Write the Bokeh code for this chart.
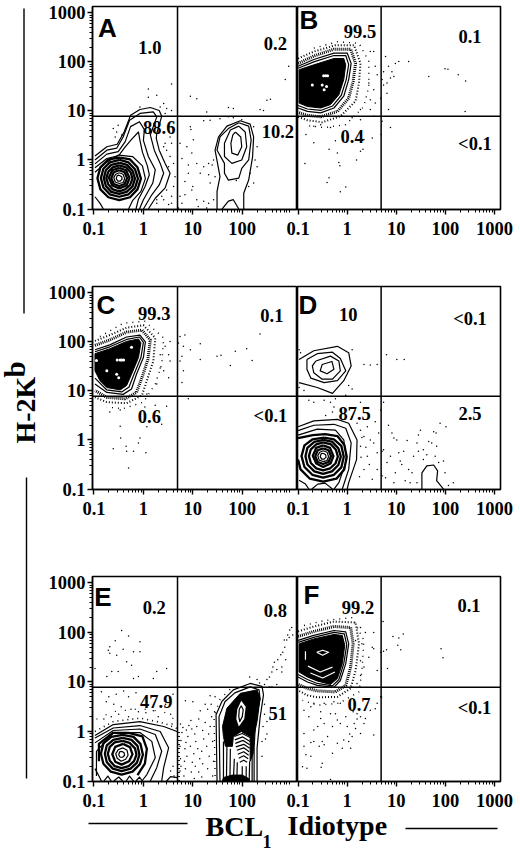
from bokeh.plotting import figure
from bokeh.layouts import row, column
from bokeh.models import FixedTicker, CustomJSTickFormatter, Range1d
from bokeh.core.properties import value
from bokeh.embed import file_html
from bokeh.resources import INLINE
import math

# All coordinates below are log10(value) pairs.
GATE_X = 4.9
GATE_Y = 7.8
X_TICKS = [0.1, 1, 10, 100, 1000]
Y_TICKS = [0.1, 1, 10, 100, 1000]
MINOR = [m * 10.0 ** k for k in range(-2, 4) for m in range(2, 10)]

A_labels = [("1.0", .13, 2.30), ("0.2", 2.67, 2.38), ("88.6", .32, .66), ("10.2", 2.72, .59)]
B_labels = [("99.5", .26, 2.61), ("0.1", 2.5, 2.51), ("0.4", .1, .47), ("<0.1", 2.6, .33)]
C_labels = [("99.3", .22, 2.58), ("0.1", 2.6, 2.53), ("0.6", .12, .48), ("<0.1", 2.57, .48)]
D_labels = [("10", .02, 2.55), ("<0.1", 2.5, 2.46), ("87.5", .15, .55), ("2.5", 2.5, .55)]
E_labels = [("0.2", .22, 2.5), ("0.8", 2.67, 2.44), ("47.9", .26, .61), ("51", 2.72, .37)]
F_labels = [("99.2", .22, 2.5), ("0.1", 2.48, 2.54), ("0.7", .24, .55), ("<0.1", 2.59, .48)]

A_rings = [
 [(-.49,-.31),(-.44,-.34),(-.43,-.39),(-.47,-.43),(-.52,-.43),(-.55,-.38),(-.53,-.32),(-.49,-.31)],
 [(-.49,-.26),(-.41,-.29),(-.38,-.38),(-.41,-.46),(-.49,-.48),(-.57,-.45),(-.60,-.36),(-.56,-.29),(-.49,-.26)],
 [(-.49,-.21),(-.38,-.25),(-.33,-.37),(-.38,-.49),(-.49,-.53),(-.60,-.49),(-.65,-.37),(-.60,-.25),(-.49,-.21)],
 [(-.49,-.16),(-.35,-.21),(-.28,-.37),(-.34,-.52),(-.49,-.58),(-.63,-.52),(-.70,-.36),(-.63,-.21),(-.49,-.16)],
 [(-.49,-.11),(-.35,-.15),(-.26,-.25),(-.22,-.38),(-.27,-.51),(-.37,-.60),(-.49,-.64),(-.62,-.60),(-.71,-.50),(-.75,-.37),(-.71,-.24),(-.62,-.15),(-.49,-.11)],
 [(-.48,-.06),(-.33,-.10),(-.22,-.22),(-.17,-.38),(-.22,-.54),(-.34,-.65),(-.49,-.69),(-.65,-.65),(-.76,-.53),(-.80,-.37),(-.76,-.21),(-.65,-.10),(-.48,-.06)],
 [(-.48,0),(-.30,-.05),(-.17,-.19),(-.11,-.38),(-.17,-.57),(-.30,-.70),(-.49,-.75),(-.68,-.70),(-.81,-.56),(-.86,-.37),(-.81,-.18),(-.68,-.05),(-.48,0)],
 [(-.47,.05),(-.27,.01),(-.12,-.15),(-.05,-.38),(-.12,-.60),(-.27,-.76),(-.49,-.82),(-.71,-.76),(-.87,-.60),(-.93,-.37),(-.87,-.15),(-.71,.01),(-.47,.05)],
 [(-.98,-.25),(-.75,-.05),(-.5,.1),(-.22,.07),(-.02,-.12),(.04,-.38),(-.05,-.64),(-.22,-.83),(-.3,-1)],
 [(-.98,.08),(-.74,.27),(-.53,.32),(-.39,.57),(-.26,.91),(-.07,1.03),(.14,1.07),(.32,1.01),(.37,.89),(.27,.54),(.26,.44),(.32,.2),(.44,-.07),(.54,-.27),(.44,-.57),(.24,-.78),(.10,-1)],
 [(-.98,0),(-.74,.2),(-.54,.24),(-.41,.47),(-.28,.81),(-.07,.95),(.20,.98),(.27,.88),(.14,.51),(.22,.2),(.34,-.07),(.41,-.27),(.32,-.51),(.17,-.71),(0,-1)],
 [(-.98,-.08),(-.74,.12),(-.51,.17),(-.37,.37),(-.26,.68),(-.08,.78),(.02,.62),(0,.40),(.10,.07),(.24,-.2),(.19,-.47),(0,-.81),(-.08,-1)],
 [(-.98,-.16),(-.74,.03),(-.5,.09),(-.38,.25),(-.24,.42),(-.1,.57),(-.07,.4),(-.02,.16),(.08,-.12),(.12,-.3),(.03,-.55),(-.1,-.8),(-.15,-1)],
 [(-.98,-.75),(-.88,-.88),(-.81,-1)],
 [(1.86,.57),(1.97,.47),(1.99,.27),(1.91,.10),(1.79,.14),(1.77,.34),(1.81,.51),(1.86,.57)],
 [(1.93,.69),(2.06,.57),(2.09,.27),(1.99,0),(1.79,-.07),(1.64,.07),(1.64,.34),(1.76,.61),(1.93,.69)],
 [(1.93,.76),(2.13,.69),(2.18,.41),(2.13,0),(1.99,-.17),(1.93,-.37),(1.72,-.41),(1.64,-.27),(1.64,-.07),(1.49,.20),(1.55,.47),(1.72,.64),(1.93,.76)],
 [(1.49,-1),(1.49,-.64),(1.55,-.34),(1.45,.20),(1.52,.47),(1.69,.69),(1.96,.80),(2.16,.73),(2.23,.47),(2.21,.07),(2.13,-.41),(2.03,-.68),(2.03,-1)],
 [(1.59,-1),(1.72,-.84),(1.82,-.81),(1.93,-1)],
]
A_dots = [(.95,.68),(.96,.62),(1.22,.8),(1.35,.81),(1.55,.84),(1.72,.88),(1.82,.86),(1.99,.82),(.74,.34),(.88,.27),(1.01,.41),(.98,.14),(.78,.03),(.91,-.1),(1.08,-.07),(1.22,-.14),(1.32,-.07),(1.42,0),(1.39,-.1),(1.15,-.27),(1.32,-.3),(.91,-.27),(.84,-.44),(1,-.54),(.98,-.61),(.74,-.74),(.84,-.71),(1.08,-.81),(1.22,-.84),(1.32,-.88),(1.42,-.81),(1.28,-.98),(1.11,-.95),(1.45,-.34),(1.35,-.47),(2.23,.68),(2.3,.27),(2.26,0),(2.13,-.54),(2.23,-.47),(2.3,-.14),(2.16,-.27),(.78,-.88),(.71,-.98),
 (.41,1.15),(.27,1.32),(.1,1.45),(.57,1.55),(.34,1.08),(.47,1.05),(.1,1.28),(-.07,1.08),(.44,.95),(.57,1.01),(.95,1.3),(1.08,1.25),(1.28,.98),(1.72,1.07),(1.82,1.05),(2.36,1.03),(2.43,1.01),(2.57,1.24),(2.5,1.22),(2.94,1.91),(2.87,1.64),(-.61,.64),(-.51,.71),(-.44,.51),(-.57,.47),(-.54,.57),
 (.47,.2),(.54,.07),(.61,-.07),(.57,.34),(.41,.27),(.51,-.14),(.61,-.54),(.41,-.81),(.51,-.91),(.27,-.81),(.57,-.74),(.64,-.34),(.37,-.74),(.47,-.61),(.27,-.88),(.57,-.88),(.44,.34),(.54,.47),(1.88,-.42)]

B_black = [(-.98,1.84),(-.68,1.94),(-.27,2.07),(-.07,2.07),(-.03,1.94),(-.07,1.64),(-.17,1.33),(-.34,1.13),(-.54,1.06),(-.81,1.09),(-.98,1.16)]
B_rings = [
 [(-1,1.91),(-.68,2.05),(-.27,2.18),(0,2.18),(.08,1.97),(.03,1.64),(-.07,1.30),(-.27,1.06),(-.54,.96),(-.81,.99),(-1,1.06)],
 [(-1,1.87),(-.68,2.0),(-.27,2.13),(-.03,2.13),(.03,1.95),(-.02,1.64),(-.12,1.32),(-.3,1.1),(-.54,1.01),(-.81,1.04),(-1,1.11)],
]
B_white = [(-.44,1.72),(-.40,1.72),(-.48,1.72),(-.47,1.43),(-.51,1.53),(-.71,1.53),(-.42,1.5)]
B_halo = [
 ([(-1,1.97),(-.68,2.12),(-.27,2.26),(.07,2.26),(.17,1.97),(.12,1.60),(.03,1.26),(-.2,.99),(-.54,.88),(-.81,.91),(-1,.97)], 3, "1 1"),
 ([(-1,2.07),(-.68,2.21),(-.24,2.34),(.14,2.34),(.27,1.97),(.24,1.57),(.17,1.2),(-.14,.89),(-.51,.77),(-.81,.81),(-1,.88)], 2, "1 2"),
 ([(-.68,2.28),(-.2,2.41),(.24,2.38),(.44,2.01),(.44,1.5),(.34,1.09),(-.03,.72),(-.47,.66),(-.81,.7)], 1.4, "1 5"),
]
B_dots = [(.78,2.11),(1.05,2.01),(1.25,2.01),(.98,1.97),(.84,1.91),(.74,1.80),(.91,1.80),(.88,1.67),(.71,1.64),(.95,1.70),(.81,1.57),(.74,1.53),(.81,1.36),(.68,1.26),(.84,1.03),(.71,.79),(.88,.66),(.69,.52),(1.66,1.70),(1.99,1.86),(2.05,1.85),(2.26,1.74),(2.41,1.61),(2.40,.99),(-.68,.35),(-.84,.52),(-.86,-.07),(-.37,.22),(-.2,.14),(-.17,-.05),(-.15,-.12),(-.37,-.36),(-.41,-.46),(-.03,-.55),(-.14,-.65),(.19,0),(.27,.18),(.32,.22),(-.24,.39),(.34,.42),(.51,.45),(.47,2.21),(.54,2.21),(.57,1.91),(.61,1.74),(.44,1.57),(.54,1.43),(.47,1.23),(.57,1.16),(.27,1.03),(.47,1.03),(.54,.89),(.27,.82),(.1,.86),(-.68,.69),(-.54,.72),(-.34,.66)]

C_black = [(-.98,1.76),(-.68,1.86),(-.34,2.01),(-.1,2.06),(-.05,1.98),(-.1,1.68),(-.24,1.34),(-.34,1.11),(-.47,1.02),(-.74,1.07),(-.88,1.21),(-.98,1.41)]
C_rings = [
 [(-.98,1.84),(-.68,1.94),(-.34,2.1),(-.07,2.14),(.04,2.0),(0,1.68),(-.14,1.34),(-.24,1.04),(-.41,.93),(-.74,.97),(-.98,1.14)],
 [(-.98,1.80),(-.68,1.90),(-.34,2.05),(-.08,2.10),(0,1.99),(-.05,1.68),(-.19,1.34),(-.29,1.08),(-.44,.98),(-.74,1.02),(-.98,1.26)],
]
C_white = [(-.47,1.63),(-.53,1.63),(-.4,1.63),(-.24,1.89),(-.54,1.34),(-.5,1.27),(-.95,1.62),(-.74,1.41),(-.44,1.63)]
C_halo = [
 ([(-.98,1.93),(-.68,2.04),(-.34,2.2),(-.03,2.24),(.14,2.04),(.09,1.64),(-.03,1.27),(-.14,.97),(-.37,.84),(-.74,.87),(-.98,1.01)], 3, "1 1"),
 ([(-.98,2.02),(-.68,2.14),(-.34,2.29),(0,2.34),(.24,2.08),(.2,1.61),(.07,1.21),(-.03,.91),(-.34,.75),(-.74,.77),(-.98,.87)], 2, "1 2"),
 ([(-.88,2.11),(-.41,2.38),(.03,2.42),(.41,2.08),(.37,1.54),(.24,1.14),(0,.77),(-.41,.64),(-.74,.67)], 1.4, "1 5"),
]
C_dots = [(.54,2.01),(.51,1.74),(.54,1.61),(.34,1.74),(.41,1.41),(.51,1.27),(.27,1.14),(.07,.94),(.34,1.47),(.44,1.91),(.74,2.11),(.84,2.14),(.71,1.98),(.81,1.91),(1.15,1.96),(.95,1.84),(.78,1.71),(.74,1.61),(1.15,1.64),(.81,1.41),(.78,1.17),(1.49,1.71),(1.57,1.73),(1.76,1.52),(1.86,1.81),(2.09,1.86),(2.2,1.62),(2.36,2.16),(.91,.84),(-.47,.28),(-.46,.04),(-.61,-.18),(-.35,-.13),(-.34,-.23),(-.2,-.23),(-.1,-.06),(.05,-.26),(-.07,.04),(-.3,-.57),(.07,.27),(.37,.32),(.47,.69),(.03,.67),(.24,.71),(-.68,.57),(-.47,.61)]

D_rings = [
 [(-.51,1.54),(-.31,1.6),(-.27,1.44),(-.41,1.35),(-.55,1.41),(-.51,1.54)],
 [(-.64,1.61),(-.34,1.71),(-.17,1.61),(-.14,1.41),(-.3,1.24),(-.51,1.24),(-.68,1.37),(-.71,1.51),(-.64,1.61)],
 [(-.82,1.64),(-.61,1.76),(-.3,1.79),(-.14,1.66),(-.03,1.41),(-.2,1.21),(-.47,1.17),(-.74,1.26),(-.82,1.44),(-.82,1.64)],
 [(-.98,1.64),(-.68,1.82),(-.2,1.91),(.03,1.78),(.08,1.51),(-.07,1.21),(-.3,.95),(-.61,1.07),(-.98,1.17)],
 [(-.49,-.27),(-.44,-.30),(-.43,-.35),(-.47,-.39),(-.52,-.39),(-.55,-.34),(-.53,-.28),(-.49,-.27)],
 [(-.49,-.22),(-.41,-.25),(-.38,-.34),(-.41,-.42),(-.49,-.44),(-.57,-.41),(-.60,-.32),(-.56,-.25),(-.49,-.22)],
 [(-.49,-.17),(-.38,-.21),(-.33,-.33),(-.38,-.45),(-.49,-.49),(-.60,-.45),(-.65,-.33),(-.60,-.21),(-.49,-.17)],
 [(-.49,-.11),(-.35,-.16),(-.28,-.33),(-.34,-.48),(-.49,-.55),(-.63,-.48),(-.70,-.32),(-.63,-.16),(-.49,-.11)],
 [(-.49,-.05),(-.33,-.09),(-.23,-.2),(-.19,-.34),(-.24,-.48),(-.35,-.58),(-.49,-.62),(-.63,-.58),(-.74,-.47),(-.78,-.33),(-.74,-.19),(-.63,-.09),(-.49,-.05)],
 [(-.48,0),(-.30,-.04),(-.18,-.17),(-.13,-.34),(-.18,-.51),(-.31,-.64),(-.49,-.69),(-.67,-.64),(-.81,-.5),(-.85,-.33),(-.81,-.16),(-.67,-.04),(-.48,0)],
 [(-.47,.05),(-.27,.01),(-.12,-.12),(-.07,-.34),(-.12,-.56),(-.27,-.71),(-.49,-.77),(-.71,-.71),(-.87,-.55),(-.93,-.33),(-.87,-.11),(-.71,.01),(-.47,.05)],
 [(-1,.04),(-.7,.1),(-.45,.12),(-.2,.08),(-.06,-.1),(-.01,-.34),(-.06,-.6),(-.22,-.79),(-.49,-.85),(-.76,-.79),(-.95,-.6),(-1,-.4)],
 [(-1,.1),(-.61,.22),(-.24,.2),(-.07,0),(-.01,-.4),(-.17,-.87),(-.27,-1)],
 [(-1,.19),(-.68,.3),(-.27,.32),(-.03,.24),(.08,-.06),(.03,-.6),(-.1,-1)],
 [(-1,.27),(-.68,.39),(-.2,.42),(.03,.34),(.2,.0),(.19,-.4),(.03,-.87),(0,-1)],
 [(-.98,-.82),(-.85,-.9),(-.78,-1)],
 [(-.72,-1),(-.6,-.9),(-.45,-.88),(-.3,-1)],
 [(1.52,-1),(1.52,-.67),(1.62,-.53),(1.76,-.51),(1.84,-.63),(1.82,-.83),(1.96,-1)],
]
D_dots = [(.71,-.23),(.91,.14),(.95,.04),(1.01,0),(1.22,-.01),(1.45,.1),(1.49,.2),(1.76,.17),(1.81,.14),(1.66,-.03),(1.72,-.06),(1.82,-.13),(1.89,.34),(2.01,.27),(1.42,-.06),(1.45,-.23),(1.62,-.3),(1.79,-.33),(1.96,-.43),(1.86,-.46),(1.25,-.6),(1.32,-.67),(1.08,-.43),(1.11,-.5),(.88,-.33),(.74,-.2),(.81,-.46),(.98,-.67),(1.18,-.83),(1.28,-.87),(1.42,-.87),(2.16,-.87),(2.06,-.93),(1.99,-.67),(1.55,-.2),(1.35,-.33),(1.15,-.23),(1.05,-.26),(.71,-.73),(.78,-.77),(.95,-.87),(1.55,-.4),
 (.8,1.74),(1.01,1.64),(1.16,1.64),(.34,1.54),(.47,1.53),(.61,1.54),(.1,1.84),(.03,1.11),(.1,1.04),(-.03,.91),(.27,.77),(-.98,1.84),(-.95,1.78),(-.98,1.07),(-.88,1.01),(-.78,.81),(-.68,.77),(-.47,.81),(-.34,.77),(-.27,.67),(-.3,.57),(-.44,.5),(-.24,.84),(.1,.47),(.2,.34),(.27,.2),(.41,.27),(.34,.07),(.47,0),(.27,-.13),(.54,-.06),(.57,.37),(.64,.14),(.41,-.33),(.61,-.26),(.34,-.6),(.51,-.8),(.61,-.6),(.74,.77),(.68,.61),(.84,.3),(.3,.05),(.38,-.15),(.28,-.35),(.45,-.5),(.25,-.75)]

E_black = [(1.6,.1),(1.69,.47),(1.96,.77),(2.3,.84),(2.36,.67),(2.3,.2),(2.24,-.07),(2.22,-.45),(2.16,-.6),(2.16,-.1),(1.98,0),(1.82,-.1),(1.8,-.3),(1.66,-.3),(1.62,-.1)]
E_black2 = [(1.6,-1),(1.62,-.93),(1.8,-.88),(2.0,-.88),(2.13,-.95),(2.15,-1)]
E_white_patches = [
 [(1.98,.62),(2.07,.5),(2.04,.25),(1.93,.1),(1.88,.25),(1.9,.45)],
]
E_rings = [
 [(-.44,-.40),(-.39,-.43),(-.38,-.48),(-.42,-.52),(-.47,-.52),(-.50,-.47),(-.48,-.41),(-.44,-.40)],
 [(-.42,-.33),(-.33,-.38),(-.31,-.48),(-.36,-.56),(-.45,-.6),(-.53,-.54),(-.56,-.45),(-.51,-.37),(-.42,-.33)],
 [(-.41,-.25),(-.27,-.32),(-.22,-.46),(-.29,-.6),(-.44,-.67),(-.57,-.61),(-.63,-.46),(-.57,-.31),(-.41,-.25)],
 [(-.42,-.19),(-.28,-.23),(-.17,-.34),(-.14,-.47),(-.19,-.6),(-.3,-.7),(-.44,-.74),(-.58,-.7),(-.68,-.59),(-.72,-.45),(-.68,-.31),(-.58,-.22),(-.42,-.19)],
 [(-.42,-.13),(-.24,-.17),(-.12,-.29),(-.08,-.47),(-.13,-.63),(-.26,-.75),(-.44,-.8),(-.62,-.75),(-.74,-.62),(-.78,-.45),(-.74,-.28),(-.61,-.17),(-.42,-.13)],
 [(-.42,-.07),(-.2,-.11),(-.06,-.25),(-.01,-.47),(-.07,-.66),(-.22,-.81),(-.44,-.87),(-.66,-.81),(-.81,-.65),(-.86,-.45),(-.81,-.24),(-.65,-.11),(-.42,-.07)],
 [(-.9,-.6),(-.9,-.25),(-.62,-.03),(-.3,-.03),(-.02,-.1),(.07,-.35),(.03,-.65),(-.12,-.88)],
 [(-.95,-.9),(-.95,-.4),(-.61,-.03),(-.07,-.02),(.17,-.2),(.24,-.53),(.07,-.87),(-.03,-1)],
 [(-.98,-.23),(-.61,.02),(-.07,.05),(.24,-.06),(.37,-.4),(.27,-.73),(.14,-1)],
 [(-.98,-.13),(-.61,.07),(-.07,.12),(.34,0),(.51,-.33),(.41,-.73),(.37,-1)],
 [(-.98,-.08),(-.61,.14),(-.07,.2),(.41,.1),(.68,0)],
 [(-.98,-.75),(-.9,-.9),(-.85,-1)],[(-.8,-1),(-.72,-.9),(-.65,-1)],[(-.6,-1),(-.5,-.92),(-.42,-1)],[(-.35,-1),(-.28,-.9),(-.2,-1)],[(-.15,-1),(-.08,-.92),(-.02,-1)],
 [(.47,-1),(.55,-.91),(.68,-.93)],
 [(1.49,-1),(1.47,.34),(1.59,.61),(1.82,.84),(2.16,.97),(2.4,.91),(2.43,.74),(2.36,.27),(2.3,-.33),(2.3,-1)],
 [(1.55,-1),(1.53,.3),(1.65,.6),(1.85,.78),(2.16,.9),(2.34,.84),(2.36,.66),(2.27,.2),(2.24,-.33),(2.24,-1)],
 [(1.62,-1),(1.62,-.2)],[(1.68,-1),(1.69,-.3)],[(1.75,-1),(1.76,-.35)],[(1.82,-1),(1.84,-.55)],[(1.89,-1),(1.9,-.62)],[(2.0,-1),(2.0,-.7)],[(2.08,-1),(2.08,-.7)],[(2.14,-1),(2.15,-.6)],[(2.2,-1),(2.2,-.4)],
 [(1.84,-.02),(2.0,.04),(2.16,-.05)],[(1.84,-.1),(2.0,-.04),(2.16,-.12)],[(1.85,-.17),(2.01,-.11),(2.16,-.2)],[(1.86,-.24),(2.02,-.18),(2.15,-.27)],[(1.87,-.31),(2.03,-.26),(2.15,-.34)],[(1.89,-.38),(2.03,-.33),(2.14,-.41)],[(1.91,-.46),(2.03,-.41),(2.13,-.48)],[(1.93,-.54),(2.03,-.49),(2.12,-.55)],[(1.95,-.62),(2.03,-.58),(2.1,-.62)],
 [(1.98,.52),(2.02,.44),(2.0,.3),(1.95,.2),(1.93,.3),(1.94,.45),(1.98,.52)],
]
E_halo = [
 ([(-.98,.0),(-.61,.2),(-.07,.27),(.41,.17),(.68,.06)], 1.6, "1 4"),
 ([(-.95,.25),(-.61,.4),(-.07,.46),(.41,.4),(.66,.22)], 1.2, "1 9"),
 ([(.72,-1),(.72,.05)], 1.8, "1 3"),
 ([(1.45,-.9),(1.43,.3),(1.55,.65),(1.8,.9)], 1.4, "1 6"),
]
E_dots = [(.74,-.8),(.76,-.7),(.75,-.55),(.74,-.3),(.76,-.18),(.78,-.02),(.8,.08),(.75,.15),(.82,-.9),(.85,-.75),(.83,-.6),(.88,-.5),(.84,-.35),(.86,-.22),(.9,-.1),(.87,.03),(.92,.12),(.96,.22),(.98,.05),(.95,-.3),(.99,-.62),(.97,-.82),(1.03,-.95),(1.05,-.7),(1.02,-.45),(1.06,-.2),(1.04,-.05),(1.08,.1),(1.12,.25),(1.1,-.35),(1.14,-.55),(1.12,-.82),(1.18,-.92),(1.2,-.65),(1.18,-.4),(1.22,-.15),(1.2,.02),(1.25,.18),(1.28,-.3),(1.3,-.75),(1.33,-.5),(1.32,-.05),(1.35,.1),(1.38,.3),(1.4,-.2),(1.42,-.6),(1.4,-.9),(1.44,.4),(1.37,.55),(1.3,.45),(1.25,.55),(1.15,.42),(1.0,.6),(.85,.62),(1.45,.7),(1.35,.72),
 (2.45,.55),(2.5,.2),(2.42,.1),(2.4,-.2),(2.47,-.15),(2.4,-.5),(2.5,-.05),(2.45,.35),(2.45,.95),(2.5,1.05),(2.55,1.1),(2.6,1.2),(2.62,1.3),(2.7,1.25),(2.65,1.4),(2.72,1.45),(2.78,1.55),(2.82,1.6),(2.86,1.7),(2.9,1.85),(2.92,1.95),(2.96,2.05),(3.0,2.1),(2.85,1.85),(2.95,1.9),(2.8,1.3),(2.88,1.45),(2.6,.9),(2.7,.95),(2.55,.9),(2.3,1.05),(2.15,1.1),(2.35,.98),(2.8,1.2),(3.02,1.95),
 (-.44,2.04),(-.3,1.93),(-.57,1.83),(-.07,1.81),(-.68,1.71),(-.71,1.64),(-.41,1.66),(-.2,1.61),(-.07,1.61),(-.54,1.54),(-.68,1.58),(-.34,1.41),(-.24,1.34),(-.64,1.21),(-.51,1.21),(-.1,1.11),(.27,1.21),(.47,1.27),(.2,1.07),(-.98,1.27),(-.2,1.07),(-.74,1.11),
 (-.85,.8),(-.7,.7),(-.55,.75),(-.4,.82),(-.3,.7),(-.15,.78),(-.6,.55),(-.75,.6),(-.45,.5),(-.25,.45),(-.1,.4),(-.5,.35),(-.65,.3),(-.8,.25),(-.3,.3),(.05,.38),(.2,.42),(.3,.3),(.45,.55),(.55,.35),(.6,.75),(.58,.15),(.6,-.7),(.55,-.8),(.62,-.9)]

F_black = [(-.98,1.77),(-.68,1.87),(-.27,1.96),(-.1,1.94),(-.05,1.74),(-.1,1.37),(-.2,1.07),(-.34,.95),(-.61,1.02),(-.81,1.1),(-.98,1.2)]
F_rings = [
 [(-1,1.84),(-.68,1.94),(-.27,2.04),(-.03,2.01),(.03,1.77),(-.03,1.37),(-.14,1.03),(-.27,.89),(-.61,.93),(-.81,1.0),(-1,1.1)],
 [(-1,1.80),(-.68,1.90),(-.27,2.0),(-.06,1.97),(-.01,1.75),(-.07,1.37),(-.17,1.05),(-.3,.92),(-.61,.97),(-.81,1.05),(-1,1.15)],
]
F_white_lines = [
 [(-.62,1.6),(-.5,1.64),(-.38,1.6),(-.5,1.54),(-.62,1.6)],
 [(-.8,1.32),(-.55,1.2),(-.3,1.3)],
 [(-.75,1.18),(-.5,1.08),(-.25,1.2)],
 [(-.85,1.45),(-.85,1.62)],
]
F_halo = [
 ([(-1,1.92),(-.68,2.02),(-.27,2.12),(.07,2.1),(.12,1.77),(.07,1.3),(-.03,.93),(-.24,.8),(-.61,.82),(-.81,.87),(-1,.95)], 3, "1 1"),
 ([(-1,2.02),(-.68,2.12),(-.27,2.22),(.17,2.2),(.24,1.77),(.17,1.23),(.07,.87),(-.2,.7),(-.61,.69),(-.81,.73),(-1,.83)], 2, "1 2"),
 ([(-.88,2.14),(-.47,2.24),(.1,2.3),(.34,1.84),(.3,1.23),(.24,.8),(-.17,.57),(-.61,.53),(-.91,.63)], 1.4, "1 5"),
]
F_dots = [(-.88,.43),(-.78,.3),(-.88,-.04),(-.68,.03),(-.54,.26),(-.47,.16),(-.34,.36),(-.2,.23),(-.14,.16),(0,.1),(.14,.16),(.17,.06),(.1,-.1),(.34,.16),(.37,.26),(.27,-.04),(.54,-.07),(-.68,-.2),(-.74,-.22),(-.51,-.2),(-.47,-.27),(-.3,-.44),(-.2,-.24),(-.07,-.17),(.03,-.2),(-.88,-.3),(-.84,-.47),(-.74,-.5),(-.91,-.71),(-.82,-.74),(-.51,-.64),(-.53,-.72),(-.34,-.97),(-.1,-.34),(.07,-.34),(-.57,-.3),(-.24,.36),(-.03,.3),(.2,.36),(.27,.3),(.47,.43),(.57,.46),(.61,.57),(.68,.7),(-.68,.57),(-.47,.57),(-.27,.6),(-.14,.57),(-.74,.5),(-.54,.4),
 (.27,2.1),(.37,2.0),(.51,1.7),(.54,1.67),(.44,1.5),(.27,1.43),(.34,1.3),(.61,1.23),(.27,1.13),(.2,.97),(.54,2),(.17,1.84),(.3,1.77),
 (.73,2.22),(.93,1.92),(1.05,1.89),(1.14,1.97),(1.03,1.74),(1.09,1.65),(.68,1.6),(.8,1.65),(.74,1.62),(.82,1.27),(1.91,1.67),(1.95,1.49),(.7,.69),(-.3,.1),(.05,-.05),(-.6,.1),(-.4,-.1),(.2,.25),(.12,.4)]

SERIF = value("Liberation Serif")
def px(points):
    return [10.0 ** p[0] for p in points], [10.0 ** p[1] for p in points]

def lines(p, rings, color="black", width=1.2, dash="solid"):
    if not rings:
        return
    xs = [px(r)[0] for r in rings]
    ys = [px(r)[1] for r in rings]
    p.multi_line(xs=xs, ys=ys, line_color=color, line_width=width, line_dash=dash, line_join="round")

def panel(letter, labels, dots, rings, left, top, right, bottom, frame_w, frame_h, xticks, yaxis,
          xrng, yrng, black=(), white_dots=(), halo=(), white_patches=(), white_lines=(), margin=None, thick=(0, 0)):
    p = figure(width=left + frame_w + right, height=top + frame_h + bottom,
               x_axis_type="log", y_axis_type="log",
               x_range=xrng, y_range=yrng,
               y_axis_location="left" if yaxis else None,
               min_border_left=left, min_border_right=right, min_border_top=top, min_border_bottom=bottom,
               toolbar_location=None, output_backend="svg",
               outline_line_color="black", outline_line_width=1.6,
               background_fill_color=None, border_fill_color=None,
               margin=margin)
    p.grid.visible = False
    axes = [p.xaxis[0]] + ([p.yaxis[0]] if yaxis else [])
    for ax, t in zip(axes, [xticks, Y_TICKS]):
        ax.ticker = FixedTicker(ticks=t, minor_ticks=MINOR)
        ax.formatter = CustomJSTickFormatter(code="return String(tick)")
        ax.major_label_text_font = "Liberation Serif"
        ax.major_label_text_font_style = "bold"
        ax.major_label_text_font_size = "18.5px"
        ax.major_label_text_color = "black"
        ax.axis_line_color = "black"
        ax.axis_line_width = 1.4
        ax.major_tick_line_color = "black"
        ax.major_tick_line_width = 1.4
        ax.minor_tick_line_color = "black"
        ax.minor_tick_line_width = 1
        ax.major_tick_in = 0
        ax.major_tick_out = 5
        ax.minor_tick_in = 0
        ax.minor_tick_out = 3
    p.xaxis[0].major_label_standoff = 7
    if yaxis:
        p.yaxis[0].major_label_standoff = 2

    dx, dy = px(dots)
    p.scatter(dx, dy, marker="circle", size=1.5, fill_color="black", line_color=None)
    for ring, w, d in halo:
        lines(p, [ring], width=w, dash=d)
    for b in black:
        bx, by = px(b)
        p.patch(bx, by, fill_color="black", line_color="black")
    for wp in white_patches:
        wx, wy = px(wp)
        p.patch(wx, wy, fill_color="white", line_color=None)
    if white_dots:
        wx, wy = px(white_dots)
        p.scatter(wx, wy, marker="circle", size=3, fill_color="white", line_color=None)
    lines(p, list(white_lines), color="white", width=1.2)
    s, t = thick
    lines(p, rings[:s] + rings[t:])
    lines(p, rings[s:t], width=2.3)
    p.line([GATE_X, GATE_X], [yrng.start, yrng.end], line_color="black", line_width=1.5)
    p.line([xrng.start, xrng.end], [GATE_Y, GATE_Y], line_color="black", line_width=1.5)

    p.text(x=[10.0 ** l[1] for l in labels], y=[10.0 ** l[2] for l in labels], text=[l[0] for l in labels],
           text_font=SERIF, text_font_style="bold", text_font_size="18.5px", text_color="black",
           text_align="center", text_baseline="middle")
    lx, ly = letter[1], letter[2]
    p.text(x=[10.0 ** lx], y=[10.0 ** ly], text=[letter[0]], text_font=value("Liberation Sans"),
           text_font_style="bold", text_font_size="26px", text_color="black",
           text_align="center", text_baseline="middle")
    return p

def xr_l(): return Range1d(10 ** -1.03, 10 ** 3.118)
def xr_r(): return Range1d(10 ** -1.012, 10 ** 3.12)
def yr(): return Range1d(10 ** -1.01, 10 ** 3.13)

LX = [0.1, 1, 10, 100]
a = panel(("A", -.73, 2.7), A_labels, A_dots, A_rings, 92, 5, 0, 31, 205, 204, LX, True, xr_l(), yr(), thick=(2, 8))
b = panel(("B", -.78, 2.86), B_labels, B_dots, B_rings, 17, 6, 20, 30, 203, 204, X_TICKS, False, xr_r(), yr(),
          black=[B_black], white_dots=B_white, halo=B_halo, margin=(0, 0, 0, -17))
c = panel(("C", -.76, 2.75), C_labels, C_dots, C_rings, 92, 45, 0, 31, 205, 204, LX, True, xr_l(), yr(),
          black=[C_black], white_dots=C_white, halo=C_halo)
d = panel(("D", -.8, 2.75), D_labels, D_dots, D_rings, 17, 46, 20, 30, 203, 204, X_TICKS, False, xr_r(), yr(),
          margin=(0, 0, 0, -17), thick=(6, 12))
e = panel(("E", -.82, 2.71), E_labels, E_dots, E_rings, 92, 55, 0, 68, 205, 206, LX, True, xr_l(), yr(),
          black=[E_black, E_black2], white_patches=E_white_patches, halo=E_halo, thick=(2, 7))
f = panel(("F", -.73, 2.75), F_labels, F_dots, F_rings, 17, 56, 20, 67, 203, 206, X_TICKS, False, xr_r(), yr(),
          black=[F_black], white_lines=F_white_lines, halo=F_halo, margin=(0, 0, 0, -17))

# Transparent page-wide layer for the two axis titles and their rules.
cap = figure(width=520, height=849, x_range=Range1d(0, 520), y_range=Range1d(849, 0),
             x_axis_location=None, y_axis_location=None, toolbar_location=None, output_backend="svg",
             min_border=0, outline_line_color=None, background_fill_color=None, border_fill_color=None,
             margin=(-849, 0, 0, 0))
cap.grid.visible = False
RULES_X0 = [23.5, 26, 88, 405]
RULES_X1 = [23.5, 26, 187, 497]
RULES_Y0 = [8, 477, 823, 828]
RULES_Y1 = [313, 778, 823, 828]
cap.segment(RULES_X0, RULES_Y0, RULES_X1, RULES_Y1, line_color="black", line_width=1.4)
def cap_text(s, x, y, size, angle=0):
    cap.text(x=[x], y=[y], text=[s], angle=[angle], text_font=SERIF, text_font_style="bold",
             text_font_size=size, text_color="black", text_align="left", text_baseline="middle")
cap_text("H-2K", 25, 443, "28px", math.pi / 2)
cap_text("b", 14, 377, "29px", math.pi / 2)
cap_text("BCL", 205, 826, "28px")
cap_text("1", 262, 841, "18px")
cap_text("Idiotype", 287, 825, "28px")

page = column(row(a, b), row(c, d), row(e, f), cap, spacing=0)
html = file_html(page, INLINE)
open("out.html", "w").write(html)
